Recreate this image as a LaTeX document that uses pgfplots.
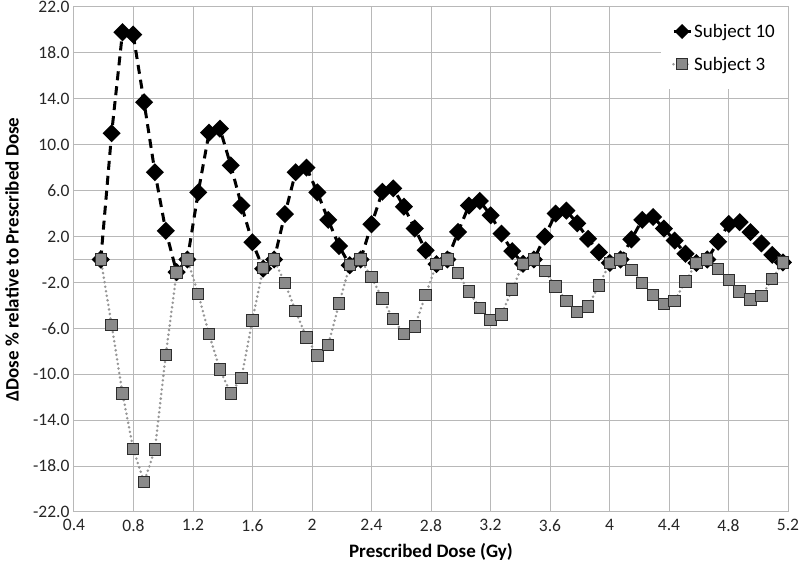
\documentclass[border=0pt]{standalone}
\usepackage{fontspec}
\setmainfont{Carlito}
\usepackage{pgfplots}
\usepackage{pgfplotstable}
\pgfplotsset{compat=1.18}
\definecolor{gridc}{RGB}{184,184,184}
\definecolor{sqfill}{RGB}{138,138,138}
\definecolor{sqdraw}{RGB}{45,45,45}
\definecolor{dotc}{RGB}{150,150,150}

\pgfplotstableread{
x s10 s3
0.580 0 0
0.653 11.0 -5.7
0.726 19.8 -11.66
0.798 19.6 -16.5
0.871 13.7 -19.4
0.944 7.6 -16.55
1.017 2.5 -8.3
1.090 -1.1 -1.15
1.162 0 0
1.235 5.85 -3.0
1.308 11.05 -6.5
1.381 11.4 -9.6
1.454 8.2 -11.66
1.526 4.7 -10.3
1.599 1.5 -5.3
1.672 -0.8 -0.75
1.745 0 0
1.818 3.96 -2.05
1.890 7.6 -4.5
1.963 8.0 -6.8
2.036 5.85 -8.35
2.109 3.45 -7.45
2.182 1.17 -3.85
2.254 -0.5 -0.5
2.327 0 0
2.400 3.07 -1.55
2.473 5.9 -3.4
2.546 6.2 -5.2
2.618 4.6 -6.5
2.691 2.7 -5.85
2.764 0.8 -3.07
2.837 -0.4 -0.4
2.910 0 0
2.982 2.4 -1.2
3.055 4.7 -2.8
3.128 5.1 -4.2
3.201 3.85 -5.25
3.274 2.25 -4.8
3.346 0.73 -2.6
3.419 -0.38 -0.38
3.492 0 0
3.565 2.0 -1.0
3.638 4.0 -2.35
3.710 4.26 -3.6
3.783 3.15 -4.6
3.856 1.8 -4.1
3.929 0.63 -2.25
4.002 -0.3 -0.3
4.074 0 0
4.147 1.75 -0.93
4.220 3.45 -2.04
4.293 3.7 -3.1
4.366 2.7 -3.9
4.438 1.65 -3.6
4.511 0.5 -1.9
4.584 -0.3 -0.3
4.657 0 0
4.730 1.55 -0.85
4.802 3.1 -1.8
4.875 3.25 -2.8
4.948 2.38 -3.5
5.021 1.4 -3.2
5.094 0.4 -1.7
5.166 -0.26 -0.26
}\dosetable

\begin{document}
\begin{tikzpicture}
\begin{axis}[
  scale only axis, width=714pt, height=505pt,
  xmin=0.4, xmax=5.2, ymin=-22, ymax=22,
  xtick={0.4,0.8,1.2,1.6,2.0,2.4,2.8,3.2,3.6,4.0,4.4,4.8,5.2},
  xticklabels={0.4,0.8,1.2,1.6,2,2.4,2.8,3.2,3.6,4,4.4,4.8,5.2},
  ytick={-22,-18,...,22},
  yticklabel style={xshift=-1pt, /pgf/number format/.cd, fixed, fixed zerofill, precision=1},
  /pgf/number format/assume math mode=true,
  extra y ticks={0}, extra y tick labels={},
  extra y tick style={grid=major},
  grid=major, major grid style={gridc, line width=1pt},
  axis line style={gridc, line width=1pt},
  major tick length=0pt,
  tick label style={font=\fontsize{17.5}{20}\selectfont, black!85},
  xticklabel style={yshift=-4pt},
  xlabel={Prescribed Dose (Gy)},
  ylabel={ΔDose \% relative to Prescribed Dose},
  label style={font=\fontsize{19}{22}\selectfont\bfseries},
  xlabel style={at={(axis description cs:0.5,-0.0800)}, anchor=center},
  ylabel style={at={(axis description cs:-0.0868,0.5)}, anchor=center},
  legend style={at={(axis cs:5.2,22)}, anchor=north east, draw=none, fill=white,
    inner xsep=11pt, inner ysep=15pt, row sep=14pt,
    font=\fontsize{19}{22}\selectfont},
  legend cell align=left,
  clip=false,
]
% Subject 10
\addplot[black, line width=3pt, dash pattern=on 9pt off 6pt,
  mark=square*, mark size=4.9pt, mark options={solid, rotate=45, fill=black}, forget plot]
  table[x=x, y=s10] {\dosetable};
\addlegendimage{black, line width=3pt, mark=square*, mark size=3.8pt,
  mark options={solid, rotate=45, fill=black}}
\addlegendentry{Subject 10}
% Subject 3
\addplot[dotc, line width=2.8pt, line cap=round, dash pattern=on 0pt off 4.6pt,
  mark=square*, mark size=5.7pt, mark options={solid, fill=sqfill, draw=sqdraw, line width=1pt}]
  table[x=x, y=s3] {\dosetable};
\addlegendentry{Subject 3}
\end{axis}
\pgfresetboundingbox
\path (current axis.south west) ++(-74pt,-60pt) coordinate (bl);
\path (current axis.north east) ++(12pt,7pt) coordinate (tr);
\useasboundingbox (bl) rectangle (tr);
\end{tikzpicture}
\end{document}
